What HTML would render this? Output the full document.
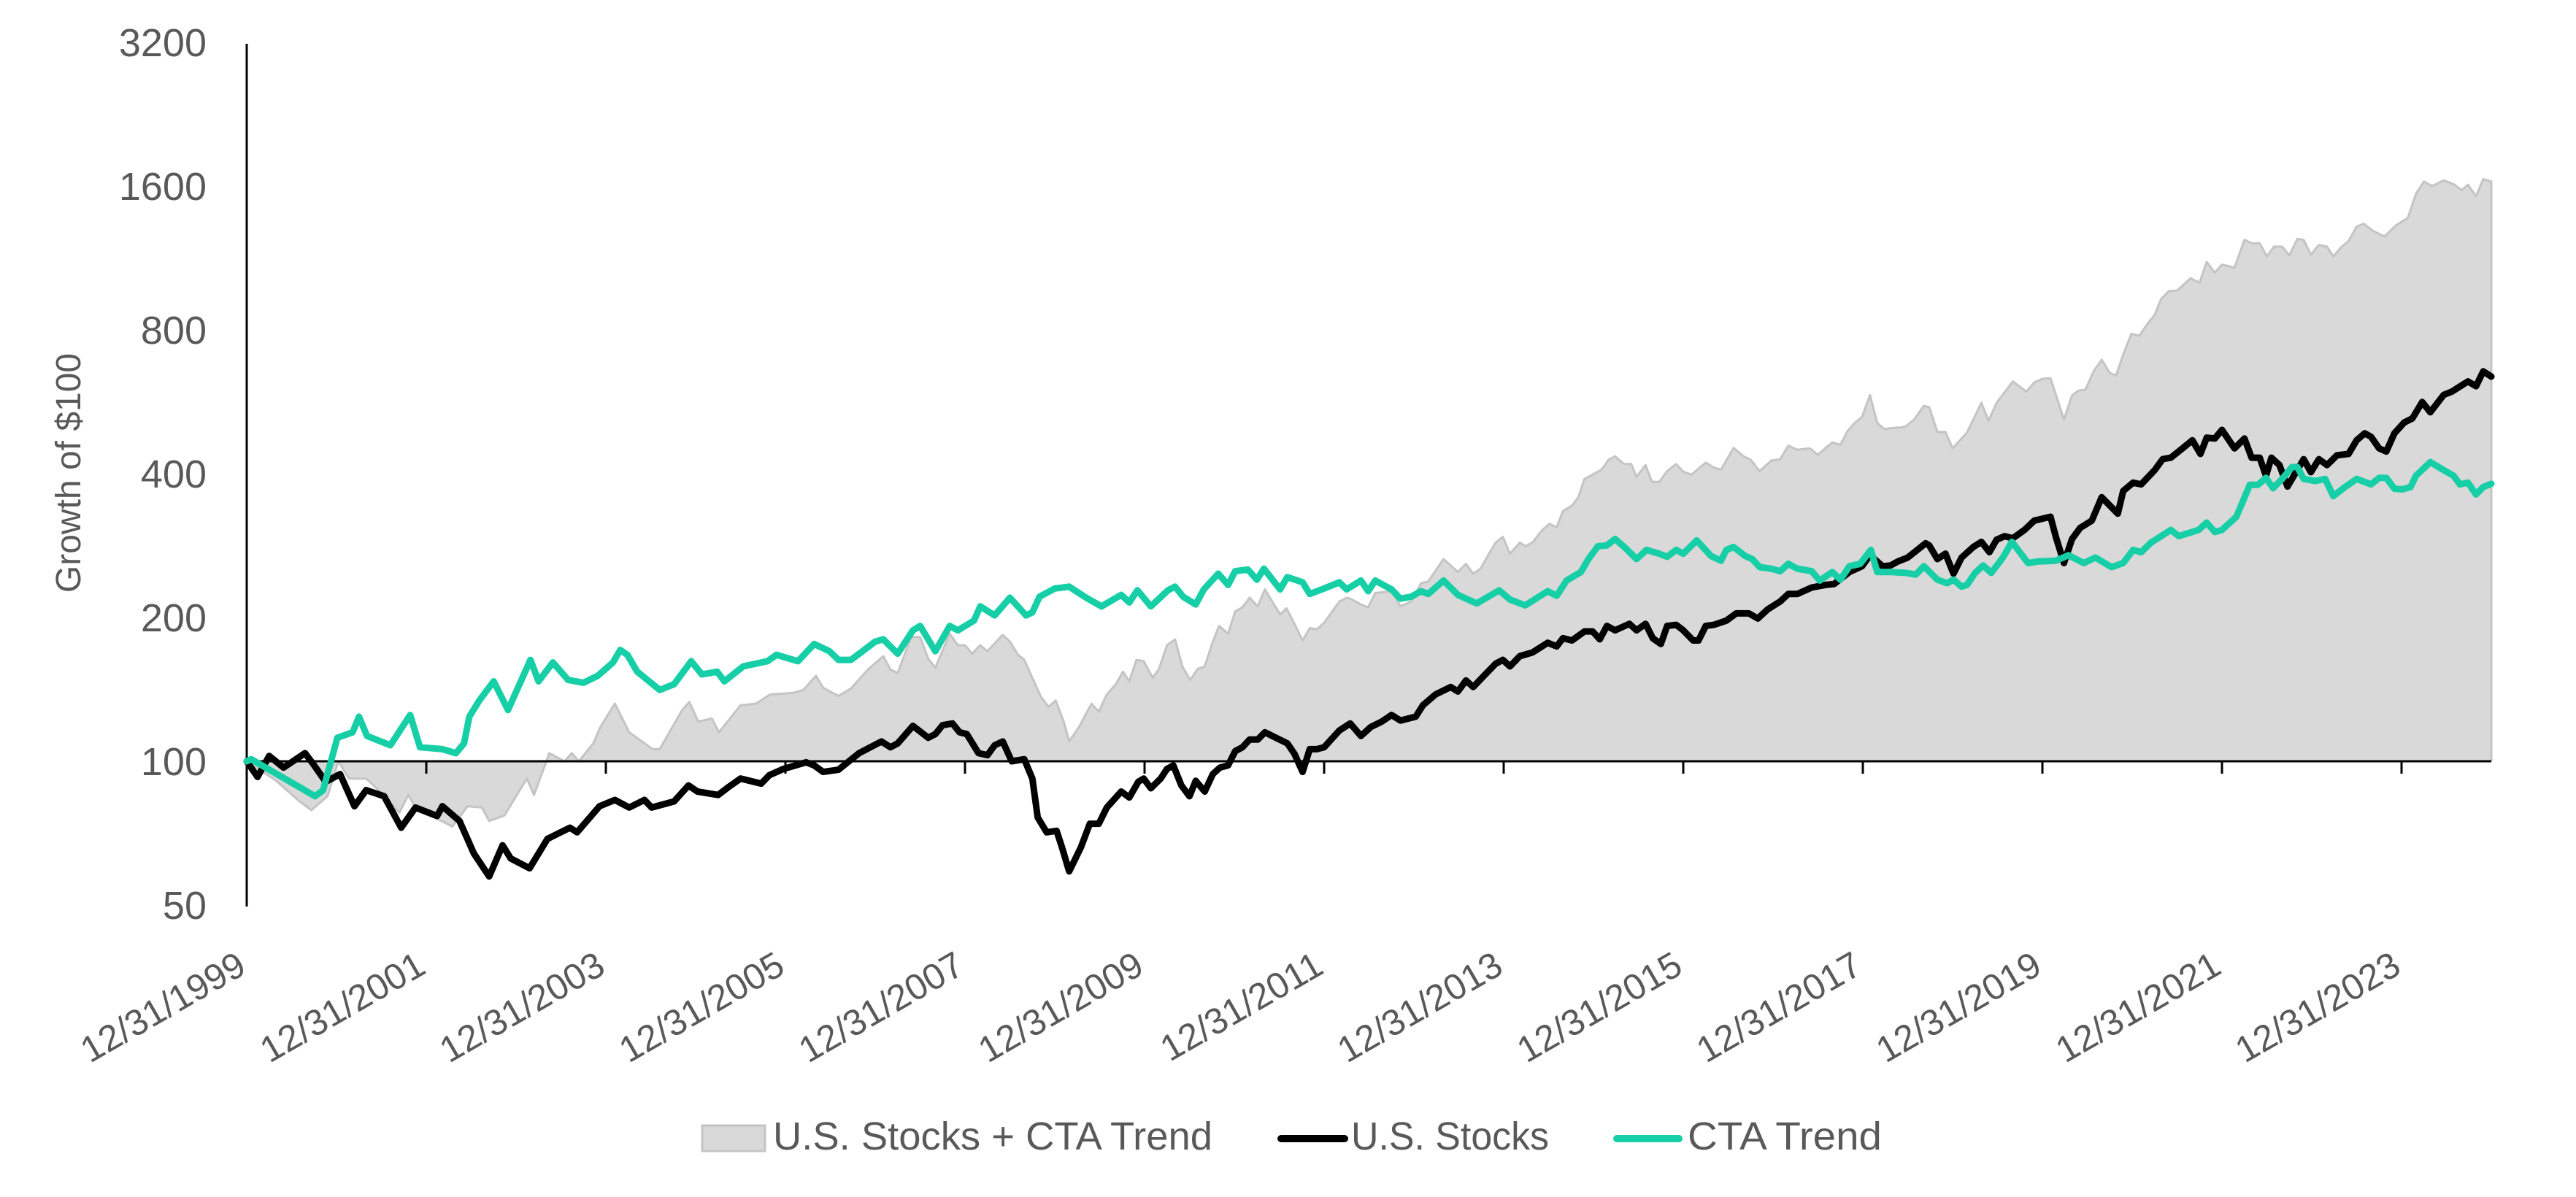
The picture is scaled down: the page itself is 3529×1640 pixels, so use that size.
<!DOCTYPE html>
<html><head><meta charset="utf-8"><style>
html,body{margin:0;padding:0;background:#fff;}
svg{display:block;}
text{font-family:"Liberation Sans",sans-serif;fill:#595959;}
</style></head><body>
<svg id="chart" width="3529" height="1640" viewBox="0 0 3529 1640" xmlns="http://www.w3.org/2000/svg">
<g id="area-layer"></g>
<g id="axes"></g>
<g id="lines"></g>
<text x="0" y="0" font-size="48" text-anchor="middle" transform="translate(110,648) rotate(-90)">Growth of $100</text>
<g>
<rect x="962" y="1542" width="86" height="35" fill="#d9d9d9" stroke="#c4c4c4" stroke-width="3"/>
<text x="1059" y="1575" font-size="54" textLength="602" lengthAdjust="spacingAndGlyphs">U.S. Stocks + CTA Trend</text>
<line x1="1755" y1="1560" x2="1842" y2="1560" stroke="#000" stroke-width="10" stroke-linecap="round"/>
<text x="1851" y="1575" font-size="54" textLength="271" lengthAdjust="spacingAndGlyphs">U.S. Stocks</text>
<line x1="2215" y1="1560" x2="2300" y2="1560" stroke="#17cfa6" stroke-width="10" stroke-linecap="round"/>
<text x="2312" y="1575" font-size="54" textLength="266" lengthAdjust="spacingAndGlyphs">CTA Trend</text>
</g>
</svg>
<script>
// years since 12/31/1999, growth of $100
const yTicks = [50,100,200,400,800,1600,3200];
const xTickLabels = ["12/31/1999","12/31/2001","12/31/2003","12/31/2005","12/31/2007","12/31/2009","12/31/2011","12/31/2013","12/31/2015","12/31/2017","12/31/2019","12/31/2021","12/31/2023"];
const xTickYears = [0,2,4,6,8,10,12,14,16,18,20,22,24];
const stocks = [[0,100],[0.12,92.7],[0.25,102.6],[0.41,97],[0.65,104],[0.74,98.7],[0.88,90.6],[1.04,94],[1.2,80.5],[1.33,87],[1.53,84.5],[1.72,72.6],[1.88,80],[2.12,76.8],[2.18,80.5],[2.37,75],[2.53,64.1],[2.7,57.4],[2.85,66.7],[2.94,62.6],[3.15,59.7],[3.35,68.8],[3.6,72.6],[3.68,71],[3.93,80.5],[4.1,83],[4.26,80],[4.43,83],[4.51,80],[4.76,82.4],[4.92,89],[5.02,86.4],[5.25,85],[5.37,88.4],[5.5,92],[5.73,89.8],[5.82,93.5],[5.98,96.4],[6.23,99.5],
[6.32,98],[6.42,95],[6.59,96],[6.82,104],[7.07,110],[7.17,107],[7.25,109],[7.42,118.6],[7.59,112],[7.67,114],[7.75,119],[7.86,120],[7.94,115],[8.02,114],[8.15,104],[8.25,103],[8.33,108],[8.42,110],[8.52,100],[8.66,101],[8.75,92],[8.81,76.3],[8.91,71],[9.02,71.5],[9.08,66.1],[9.16,58.8],[9.29,66],[9.39,74],[9.49,74],[9.58,80],[9.74,86.4],[9.83,84],[9.93,90.6],[9.99,92],[10.07,87.8],[10.18,92],[10.25,96.4],[10.32,98],[10.41,89],[10.5,84.5],[10.57,91],[10.67,86.4],[10.76,94],[10.84,97],[10.93,98],[11.01,105],[11.09,107],[11.17,111],[11.26,111],[11.34,115],[11.59,109],[11.67,103.6],[11.76,95],[11.84,106],[11.92,106],[12.0,107],[12.17,116],
[12.29,120],[12.41,113],[12.52,118],[12.64,121],[12.75,125],[12.85,121.7],[13.02,124],[13.1,131],[13.24,138],[13.41,143],[13.49,140],[13.58,147.6],[13.66,143],[13.78,151],[13.91,160],[13.99,163],[14.07,158],[14.18,166],[14.32,169],[14.49,177],[14.59,174],[14.66,181],[14.76,179],[14.9,187],[14.99,187],[15.07,180],[15.15,192],[15.24,188],[15.4,194],[15.48,188],[15.58,194],[15.66,181],[15.75,176],[15.82,192],[15.92,193],[16.0,188],[16.11,179],[16.17,179],[16.25,192],[16.34,193],[16.48,197],[16.59,204],[16.73,204],[16.83,199],[16.94,208],[17.08,216],[17.17,224],[17.27,224],[17.43,231],[17.58,234],[17.68,235],[17.85,249],[17.99,256],[18.08,270],[18.22,256],[18.31,257],
[18.39,262],[18.5,267],[18.7,286],[18.74,283],[18.83,265],[18.92,272],[19.01,247],[19.1,267],[19.23,281],[19.32,288],[19.41,274],[19.49,291],[19.58,296],[19.67,293],[19.8,305],[19.91,319],[20.09,325],[20.15,295],[20.24,260],[20.33,292],[20.42,308],[20.55,319],[20.66,357],[20.84,330],[20.9,368],[21.01,383],[21.1,380],[21.25,407],[21.34,429],[21.43,432],[21.56,452],[21.67,470],[21.76,440],[21.83,476],[21.92,474],[22.0,494],[22.14,452],[22.25,474],[22.33,432],[22.42,432],[22.49,396],[22.55,432],[22.64,417],[22.73,376],[22.91,429],[22.99,403],[23.08,429],[23.17,417],[23.28,437],[23.41,440],[23.5,470],[23.59,486],[23.66,478],[23.75,452],[23.83,445],[23.92,486],[24.03,512],[24.12,522],[24.23,565],[24.32,538],[24.47,585],[24.56,594],[24.74,624],[24.83,610],[24.91,655],[25.0,639]];
const cta = [[0,100],[0.05,101],[0.6,88],[0.76,84.5],[0.85,87],[1.01,112],[1.18,115],[1.25,124],[1.34,113],[1.6,108],[1.82,125],[1.93,107],[2.18,106],[2.33,104],[2.42,109],[2.48,124],[2.59,134],[2.75,147],[2.91,128],[3.16,163],[3.25,147],[3.41,161],[3.58,148],[3.75,146],[3.91,151],[4.08,161],[4.16,171],[4.24,167],[4.35,154],[4.6,141],[4.76,145],[4.95,162],[5.07,152],[5.24,154],[5.32,147],[5.53,158],[5.8,162],[5.9,167],[6.14,162],
[6.32,176],[6.49,170],[6.59,163],[6.73,163],[7.0,178],[7.09,180],[7.25,168],[7.42,188],[7.5,192],[7.67,170],[7.83,192],[7.92,188],[8.1,197],[8.17,211],[8.33,202],[8.5,220],[8.68,202],[8.75,205],[8.83,221],[9.0,230],[9.16,232],[9.35,220],[9.52,211],[9.74,223],[9.83,215],[9.92,228],[10.07,211],[10.26,228],[10.34,232],[10.43,221],[10.57,213],[10.66,229],[10.82,247],[10.93,234],[11.01,250],[11.15,252],[11.25,240],[11.33,253],[11.51,229],[11.59,243],[11.76,237],[11.84,224],[12.0,230],[12.17,237],[12.25,229],
[12.41,239],[12.49,227],[12.57,239],[12.75,229],[12.85,219],[12.97,221],[13.08,227],[13.16,224],[13.33,239],[13.49,223],[13.7,214],[13.95,228],[14.07,218],[14.24,212],[14.49,227],[14.59,222],[14.7,239],[14.86,249],[14.95,266],[15.05,282],[15.15,283],[15.24,292],[15.36,279],[15.48,265],[15.59,277],[15.73,272],[15.82,268],[15.92,277],[16.0,272],[16.15,290],[16.31,269],[16.42,263],[16.48,277],[16.56,281],[16.69,269],[16.77,265],[16.85,255],[16.98,253],[17.08,250],[17.17,259],[17.27,253],[17.43,250],[17.52,239],[17.66,249],[17.75,240],[17.85,256],[17.97,259],[18.09,277],[18.16,249],[18.31,249],
[18.48,248],[18.59,246],[18.68,256],[18.83,240],[18.94,236],[19.01,240],[19.1,232],[19.16,234],[19.25,248],[19.34,257],[19.43,248],[19.56,267],[19.66,288],[19.84,260],[19.95,262],[20.15,263],[20.29,270],[20.46,260],[20.59,267],[20.77,255],[20.9,260],[21.01,277],[21.1,274],[21.21,287],[21.43,305],[21.52,296],[21.74,305],[21.83,316],[21.92,302],[22.0,305],[22.16,325],[22.31,379],[22.4,379],[22.49,392],[22.57,373],[22.67,390],[22.78,413],[22.84,413],[22.91,390],[23.04,386],[23.15,390],[23.24,359],[23.37,375],[23.5,390],[23.66,380],[23.75,392],[23.83,392],[23.92,372],[24.01,371],[24.1,375],[24.16,396],[24.32,423],[24.47,407],[24.58,396],[24.65,380],[24.74,383],[24.83,362],[24.91,375],[25.0,381]];
const combined = [[0,100],[0.33,91],[0.57,83],[0.72,79],[0.9,84.5],[1.02,100],[1.14,92],[1.33,92],[1.47,87],[1.7,78],[1.8,85],[1.88,80],[2.29,73],[2.46,80.5],[2.62,80],[2.7,75],[2.87,77],[3.12,92],[3.2,85],[3.37,104],[3.54,100],[3.62,104],[3.7,100],[3.86,109],[3.94,118],[4.1,132],[4.26,115],[4.52,106],[4.6,106],[4.85,128],[4.93,133],[5.03,121],[5.18,123],[5.26,115],[5.5,131],[5.67,132],[5.83,138],[6.08,139],
[6.2,141],[6.34,151],[6.42,142.5],[6.59,137],[6.73,142],[6.92,155.6],[7.09,166],[7.17,155.6],[7.25,153],[7.4,182],[7.5,182],[7.59,164],[7.67,157],[7.83,185],[7.92,175],[8.0,175],[8.08,168],[8.17,175],[8.25,170],[8.42,184],[8.5,178],[8.59,167],[8.66,163],[8.85,136],[8.93,130],[9.01,134],[9.1,121],[9.16,110],[9.27,118],[9.41,132],[9.49,127],[9.58,138],[9.68,145],[9.76,154],[9.83,147],[9.91,163],[9.99,162],[10.09,149.6],[10.16,156],[10.25,175],[10.34,180],[10.42,158],[10.51,148],[10.59,156],[10.67,158],[10.76,178],[10.83,192],[10.93,185],[11.01,206],[11.09,210],[11.17,220],[11.26,211],[11.34,229],[11.51,203],[11.58,209],[11.67,194],[11.76,179],[11.84,190],[11.92,189],[12.0,195],[12.17,216],[12.25,220],
[12.29,219],[12.41,213],[12.49,210],[12.57,225],[12.75,227],[12.85,211],[12.97,216],[13.08,236],[13.16,238],[13.33,265],[13.49,249],[13.58,259],[13.66,247],[13.74,253],[13.91,287],[13.99,295],[14.07,272],[14.18,287],[14.24,282],[14.32,287],[14.43,305],[14.51,314],[14.59,309],[14.66,334],[14.76,343],[14.83,357],[14.9,390],[15.09,408],[15.17,428],[15.24,435],[15.34,419],[15.42,419],[15.48,394],[15.58,417],[15.65,385],[15.73,384],[15.82,405],[15.92,419],[16.0,404],[16.09,398],[16.25,422],[16.34,412],[16.42,408],[16.56,453],[16.67,435],[16.75,428],[16.85,405],[16.98,426],[17.08,429],[17.17,458],[17.27,449],[17.41,452],[17.5,438],[17.58,452],[17.66,465],[17.75,460],[17.83,491],[17.91,511],[17.99,526],[18.08,584],[18.16,511],[18.24,496],[18.35,499],
[18.43,500],[18.48,503],[18.57,519],[18.68,555],[18.74,551],[18.83,489],[18.92,489],[19.0,452],[19.16,488],[19.32,563],[19.4,516],[19.49,563],[19.67,624],[19.76,606],[19.82,594],[19.91,621],[20.0,632],[20.09,634],[20.24,519],[20.33,583],[20.4,597],[20.48,600],[20.57,655],[20.66,693],[20.75,650],[20.82,642],[20.9,710],[20.99,785],[21.08,778],[21.17,823],[21.25,860],[21.32,927],[21.41,965],[21.5,967],[21.65,1026],[21.75,1005],[21.83,1110],[21.92,1054],[22.0,1096],[22.14,1080],[22.25,1235],[22.33,1215],[22.42,1215],[22.5,1140],[22.58,1195],[22.67,1195],[22.75,1146],[22.84,1240],[22.91,1235],[22.99,1150],[23.08,1205],[23.17,1195],[23.24,1140],[23.33,1193],[23.41,1228],[23.5,1316],[23.58,1335],[23.68,1290],[23.81,1255],[23.94,1325],[24.07,1373],[24.16,1541],[24.25,1636],[24.34,1600],[24.47,1645],[24.58,1615],[24.67,1570],[24.74,1610],[24.83,1523],[24.91,1655],[25.0,1636]];

const NS = "http://www.w3.org/2000/svg";
const X0 = 338, PX_YEAR = 123, Y100 = 1043, PX_DOUBLE = 197;
function xS(t){ return X0 + PX_YEAR * t; }
function yS(v){ return Y100 - PX_DOUBLE * Math.log2(v / 100); }
function mk(tag, attrs, parent){ const e = document.createElementNS(NS, tag); for (const k in attrs) e.setAttribute(k, attrs[k]); parent.appendChild(e); return e; }

const areaLayer = document.getElementById('area-layer');
const axes = document.getElementById('axes');
const lines = document.getElementById('lines');

// combined area relative to 100 baseline
let d = 'M' + xS(combined[0][0]) + ',' + Y100;
combined.forEach(p => { d += ' L' + xS(p[0]).toFixed(1) + ',' + yS(p[1]).toFixed(1); });
d += ' L' + xS(combined[combined.length-1][0]).toFixed(1) + ',' + Y100 + ' Z';
const area = mk('path', {d: d, fill: '#d9d9d9', stroke: 'none'}, areaLayer);


let dl = '';
combined.forEach((p, i) => { dl += (i ? ' L' : 'M') + xS(p[0]).toFixed(1) + ',' + yS(p[1]).toFixed(1); });
dl += ' L' + xS(combined[combined.length-1][0]).toFixed(1) + ',' + Y100;
const areaEdge = mk('path', {d: dl, fill: 'none', stroke: '#c4c4c4', 'stroke-width': 3, 'stroke-linejoin': 'round'}, areaLayer);



// axes
const yAxis = mk('line', {x1: X0, y1: 60, x2: X0, y2: 1242, stroke: '#000', 'stroke-width': 3}, axes);


const xAxis = mk('line', {x1: X0, y1: Y100, x2: xS(25), y2: Y100, stroke: '#000', 'stroke-width': 3}, axes);


yTicks.forEach(v => {
  const t = mk('text', {x: 283, y: yS(v) + 19, 'font-size': 54, 'text-anchor': 'end'}, axes);
  
  
  t.textContent = String(v);
});
xTickYears.forEach((yr, i) => {
  if (yr > 0) {
    const tk = mk('line', {x1: xS(yr), y1: Y100, x2: xS(yr), y2: Y100 + 17, stroke: '#000', 'stroke-width': 3}, axes);
    
    
  }
  const lx = xS(yr) + 2, ly = 1332;
  const t = mk('text', {x: lx, y: ly, 'font-size': 50, 'text-anchor': 'end', transform: 'rotate(-30 ' + lx + ' ' + ly + ')'}, axes);
  
  
  t.textContent = xTickLabels[i];
});

function drawLine(data, color, name){
  let p = '';
  data.forEach((q, i) => { p += (i ? ' L' : 'M') + xS(q[0]).toFixed(1) + ',' + yS(q[1]).toFixed(1); });
  const el = mk('path', {d: p, fill: 'none', stroke: color, 'stroke-width': 9, 'stroke-linejoin': 'round', 'stroke-linecap': 'round'}, lines);
  
  
}
drawLine(stocks, '#000000', 'us-stocks-line');
drawLine(cta, '#17cfa6', 'cta-trend-line');
</script>
</body></html>
